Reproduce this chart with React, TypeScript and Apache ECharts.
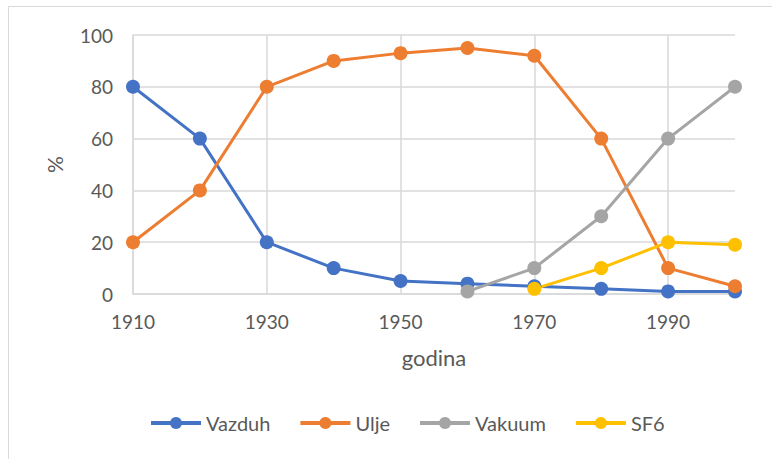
import React, { useEffect, useRef } from "react";
import * as echarts from "echarts";

const years = ["1910", "1920", "1930", "1940", "1950", "1960", "1970", "1980", "1990", "2000"];
const vazduh = [80, 60, 20, 10, 5, 4, 3, 2, 1, 1];
const ulje = [20, 40, 80, 90, 93, 95, 92, 60, 10, 3];
const vakuum = [null, null, null, null, null, 1, 10, 30, 60, 80];
const sf6 = [null, null, null, null, null, null, 2, 10, 20, 19];

const FONT = "Lato";
const TXT = "#595959";

export default function App() {
  const ref = useRef<HTMLDivElement>(null);
  useEffect(() => {
    const chart = echarts.init(ref.current!, null, { renderer: "svg" });
    const mk = (name: string, data: any[], color: string) => ({
      name,
      type: "line",
      data,
      symbol: "circle",
      symbolSize: 14,
      lineStyle: { width: 3, color },
      itemStyle: { color },
      connectNulls: false,
    });
    chart.setOption({
      animation: false,
      textStyle: { fontFamily: FONT },
      graphic: [
        {
          type: "rect",
          shape: { x: 8.5, y: 6.5, width: 800, height: 500 },
          style: { fill: "none", stroke: "#d9d9d9", lineWidth: 1 },
          silent: true,
        },
      ],
      grid: { left: 133, right: 37, top: 35, bottom: 165, containLabel: false },
      xAxis: {
        type: "category",
        data: years,
        boundaryGap: false,
        name: "godina",
        nameLocation: "middle",
        nameGap: 52,
        nameTextStyle: { color: TXT, fontSize: 22, fontFamily: FONT },
        axisLine: { lineStyle: { color: "#d9d9d9", width: 1.5 } },
        axisTick: { show: false },
        axisLabel: { interval: 1, color: TXT, fontSize: 19, margin: 18, fontFamily: FONT },
        splitLine: { show: true, interval: 1, lineStyle: { color: "#d9d9d9", width: 1.5 } },
      },
      yAxis: {
        type: "value",
        min: 0,
        max: 100,
        interval: 20,
        name: "%",
        nameLocation: "middle",
        nameGap: 68,
        nameRotate: 90,
        nameTextStyle: { color: TXT, fontSize: 21, fontFamily: FONT },
        axisLine: { show: true, lineStyle: { color: "#d9d9d9", width: 1.5 } },
        axisTick: { show: false },
        axisLabel: { color: TXT, fontSize: 19, margin: 20, fontFamily: FONT },
        splitLine: { show: true, lineStyle: { color: "#d9d9d9", width: 1.5 } },
      },
      legend: {
        top: 408,
        left: 144,
        itemWidth: 50,
        itemHeight: 15,
        itemGap: 28,
        lineStyle: { width: 4 },
        textStyle: { color: TXT, fontSize: 20, fontFamily: FONT },
        data: ["Vazduh", "Ulje", "Vakuum", "SF6"],
      },
      series: [
        mk("Vazduh", vazduh, "#4472C4"),
        mk("Ulje", ulje, "#ED7D31"),
        mk("Vakuum", vakuum, "#A5A5A5"),
        mk("SF6", sf6, "#FFC000"),
      ],
    });
    return () => chart.dispose();
  }, []);
  return (
    <div
      ref={ref}
      style={{ position: "absolute", left: 0, top: 0, width: 772, height: 459, background: "#fff" }}
    />
  );
}
